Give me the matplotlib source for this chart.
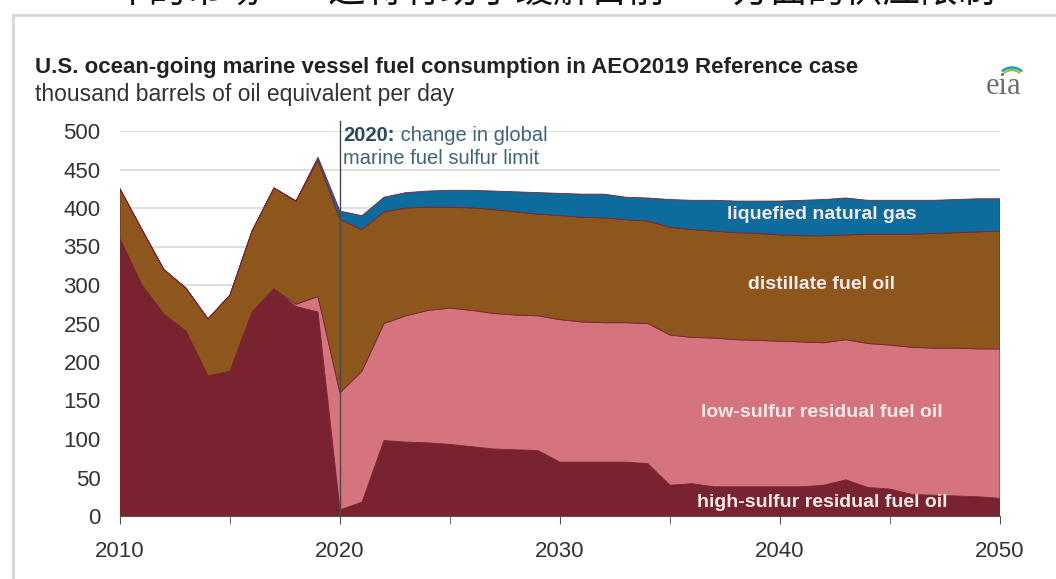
# U.S. ocean-going marine vessel fuel consumption, AEO2019 reference case
import matplotlib
matplotlib.use("Agg")
import matplotlib.pyplot as plt
from matplotlib.lines import Line2D
import numpy as np

years = list(range(2010, 2051))

# thousand barrels of oil equivalent per day
high_sulfur = [360, 300, 262, 240, 182, 188, 265, 295, 272, 265,
               8, 18, 98, 96, 95, 93, 90, 87, 86, 85,
               70, 70, 70, 70, 68, 40, 42, 38, 38, 38,
               38, 38, 40, 47, 37, 35, 28, 27, 26, 25, 23]
low_sulfur = [0, 0, 0, 0, 0, 0, 0, 0, 3, 20,
              152, 170, 152, 164, 172, 177, 177, 176, 175, 175,
              185, 182, 181, 181, 182, 195, 190, 193, 191, 190,
              189, 188, 185, 182, 187, 187, 191, 191, 192, 192, 194]
distillate = [65, 72, 58, 56, 74, 99, 105, 131, 134, 177,
              225, 184, 145, 140, 134, 131, 133, 135, 134, 132,
              135, 136, 136, 134, 133, 140, 140, 139, 139, 139,
              138, 138, 139, 136, 142, 144, 147, 149, 150, 152, 153]
lng = [0, 0, 0, 0, 0, 0, 0, 0, 0, 4,
       11, 18, 19, 20, 21, 22, 23, 24, 26, 28,
       29, 30, 31, 29, 30, 36, 38, 40, 41, 42,
       44, 46, 47, 48, 44, 44, 44, 43, 43, 43, 42]

series_labels = ['high-sulfur residual fuel oil', 'low-sulfur residual fuel oil',
                 'distillate fuel oil', 'liquefied natural gas']
colors = ['#7a2330', '#d5737f', '#8c561d', '#0e6c9c']

plt.rcParams['font.family'] = ['Liberation Sans', 'DejaVu Sans']

fig = plt.figure(figsize=(10.56, 5.79), dpi=100)

# clipped chinese caption at the very top + panel border
fig.text(0.105, 1 + 8 / 579, '年的市场——这将有助于缓解目前——方面的供应限制',
         family=['Noto Sans CJK SC', 'DejaVu Sans'], fontsize=27, va='center',
         ha='left', color='#111111')
fig.add_artist(Line2D([13 / 1056, 1], [1 - 15 / 579, 1 - 15 / 579], color='#d6d6d6', lw=2))
fig.add_artist(Line2D([13 / 1056, 13 / 1056], [0, 1 - 15 / 579], color='#d6d6d6', lw=2))

# titles
fig.text(35 / 1056, 1 - 67 / 579,
         'U.S. ocean-going marine vessel fuel consumption in AEO2019 Reference case',
         fontsize=16, fontweight='bold', color='#222222', va='center')
fig.text(35 / 1056, 1 - 94 / 579, 'thousand barrels of oil equivalent per day',
         fontsize=16.5, color='#333333', va='center')

# eia logo
fig.text(1004 / 1056, 1 - 86 / 579, 'eia', family=['Liberation Serif', 'DejaVu Serif'],
         fontsize=22, color='#6d6e71', ha='center', va='center')
t = np.linspace(0.25, 0.75, 30) * np.pi
for r, c in [(13, '#1f9ad6'), (10, '#8cc63f')]:
    fig.add_artist(Line2D((1012 + r * np.cos(t)) / 1056, (579 - 78 + r * np.sin(t) * 0.8) / 579,
                          color=c, lw=1.8))

ax = fig.add_axes([120 / 1056, 1 - 516 / 579, 880 / 1056, 385 / 579])
ax.stackplot(years, high_sulfur, low_sulfur, distillate, lng, colors=colors,
             labels=series_labels, linewidth=0.6, edgecolors=colors)

ax.set_xlim(2010, 2050)
ax.set_ylim(0, 500)
ax.set_yticks(range(0, 501, 50))
ax.set_xticks(range(2010, 2051, 10))
ax.set_xticks(range(2010, 2051, 5), minor=True)
ax.yaxis.grid(True, color='#d9d9d9', lw=1.2)
ax.set_axisbelow(True)
for s in ['top', 'right', 'left']:
    ax.spines[s].set_visible(False)
ax.spines['bottom'].set_color('#555555')
ax.tick_params(axis='y', length=0, labelsize=16, colors='#333333', pad=14)
ax.tick_params(axis='x', which='both', length=6, color='#555555', labelsize=16,
               labelcolor='#333333', pad=12)

# 2020 marker
ax.plot([2020, 2020], [0, 513], color='#4a4a4a', lw=1, clip_on=False, zorder=5)
t1 = ax.text(2020.15, 507, '2020:', fontsize=14.5, fontweight='bold', color='#27495c',
             va='top', ha='left')
ax.annotate(' change in global', xy=(1, 0), xycoords=t1, fontsize=14.5, color='#3f6475',
            va='bottom', ha='left')
ax.text(2020.15, 476, 'marine fuel sulfur limit', fontsize=14.5, color='#3f6475',
        va='top', ha='left')

# in-area labels
lab_kw = dict(fontsize=14, fontweight='bold', color='#f4eaea', ha='center', va='center')
ax.text(2041.9, 391, series_labels[3], **lab_kw)
ax.text(2041.9, 301, series_labels[2], **lab_kw)
ax.text(2041.9, 134, series_labels[1], **lab_kw)
ax.text(2041.9, 18, series_labels[0], **lab_kw)

plt.savefig('out.png', dpi=100)
